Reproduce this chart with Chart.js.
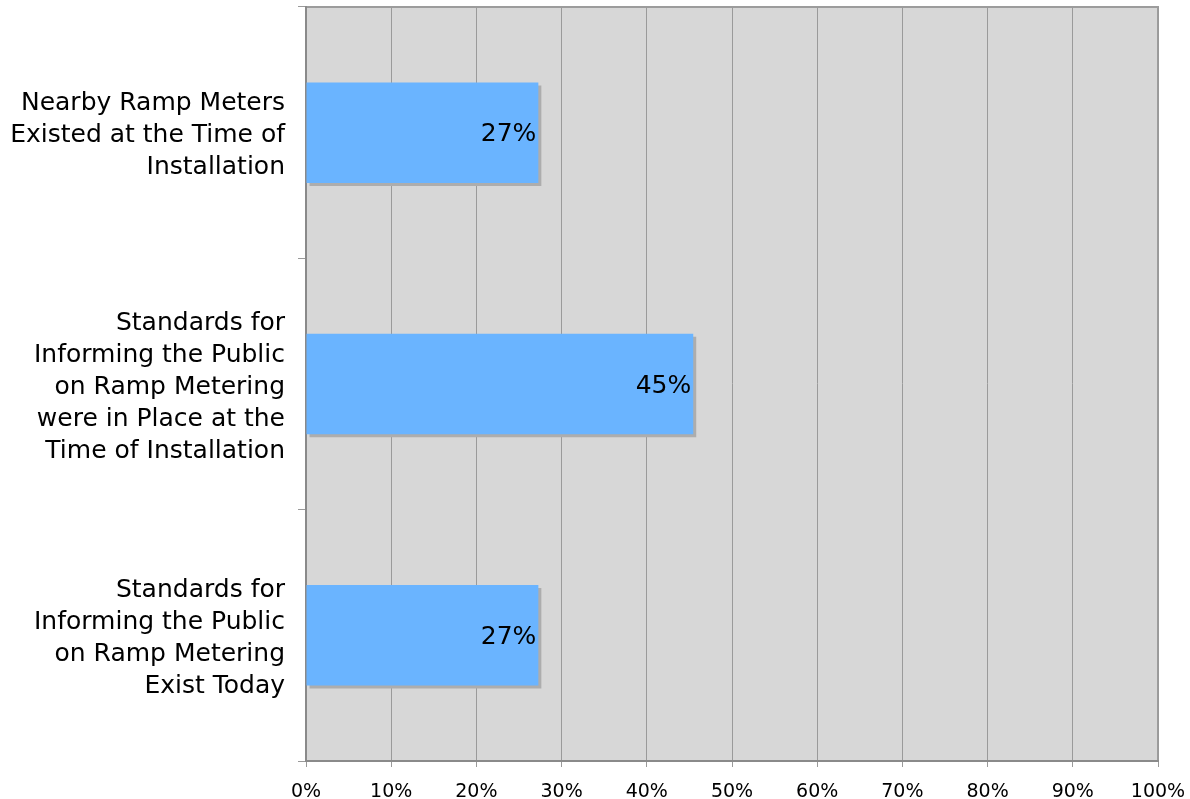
<!DOCTYPE html>
<html>
<head>
<meta charset="utf-8">
<script src="https://cdn.jsdelivr.net/npm/chart.js@4/dist/chart.umd.min.js"></script>
<style>
  html, body { margin: 0; padding: 0; background: #ffffff; }
  #wrap { width: 1190px; height: 799px; }
</style>
</head>
<body>
<div id="wrap"><canvas id="chart" width="1190" height="799"></canvas></div>
<script>
// Survey items, one bar each (multi-line labels)
const categories = [
  ['Nearby Ramp Meters', 'Existed at the Time of', 'Installation'],
  ['Standards for', 'Informing the Public', 'on Ramp Metering', 'were in Place at the', 'Time of Installation'],
  ['Standards for', 'Informing the Public', 'on Ramp Metering', 'Exist Today']
];
// Share of respondents answering yes (%)
const shares = [27.27, 45.45, 27.27];
// Horizontal axis ticks (%)
const xTickValues = [0, 10, 20, 30, 40, 50, 60, 70, 80, 90, 100];

const FONT = "'DejaVu Sans', Verdana, sans-serif";

// Grey plot background with a thin frame
const plotBackground = {
  id: 'plotBackground',
  beforeDraw(chart) {
    const { ctx, chartArea: a } = chart;
    ctx.save();
    ctx.fillStyle = '#d7d7d7';
    ctx.fillRect(a.left, a.top, a.right - a.left, a.bottom - a.top);
    ctx.strokeStyle = '#9c9c9c';
    ctx.lineWidth = 2;
    ctx.beginPath();
    ctx.moveTo(a.left, a.top);
    ctx.lineTo(a.right, a.top);
    ctx.lineTo(a.right, a.bottom);
    ctx.stroke();
    ctx.restore();
  }
};

// Drop shadow under the bars
const barShadow = {
  id: 'barShadow',
  beforeDatasetsDraw(chart) {
    const ctx = chart.ctx;
    ctx.save();
    ctx.shadowColor = '#adadad';
    ctx.shadowOffsetX = 3;
    ctx.shadowOffsetY = 3;
    ctx.shadowBlur = 0;
  },
  afterDatasetsDraw(chart) {
    chart.ctx.restore();
  }
};

// Percentage written just inside the end of each bar
const valueLabels = {
  id: 'valueLabels',
  afterDatasetsDraw(chart) {
    const ctx = chart.ctx;
    const meta = chart.getDatasetMeta(0);
    ctx.save();
    ctx.font = '25px ' + FONT;
    ctx.fillStyle = '#000000';
    ctx.textAlign = 'right';
    ctx.textBaseline = 'middle';
    meta.data.forEach((bar, i) => {
      const v = chart.data.datasets[0].data[i];
      ctx.fillText(Math.round(v) + '%', bar.x - 2, bar.y + 2);
    });
    ctx.restore();
  }
};

new Chart(document.getElementById('chart'), {
  type: 'bar',
  data: {
    labels: categories,
    datasets: [{
      data: shares,
      backgroundColor: '#6ab4ff',
      borderWidth: 0,
      categoryPercentage: 1,
      barPercentage: 0.4
    }]
  },
  options: {
    indexAxis: 'y',
    responsive: false,
    devicePixelRatio: 1,
    animation: false,
    layout: { padding: { left: 0, top: 7, right: 32, bottom: 0 } },
    plugins: { legend: { display: false }, tooltip: { enabled: false } },
    scales: {
      x: {
        min: 0,
        max: 100,
        afterBuildTicks(scale) {
          scale.ticks = xTickValues.map(v => ({ value: v }));
        },
        afterFit(scale) {
          scale.height = 38;
          scale.paddingLeft = 0;
          scale.paddingRight = 0;
        },
        grid: {
          color: '#9a9a9a',
          lineWidth: 1,
          tickLength: 6,
          drawTicks: true
        },
        border: { color: '#8a8a8a', width: 2 },
        ticks: {
          color: '#000000',
          font: { family: FONT, size: 19 },
          padding: 14,
          callback: v => v + '%'
        }
      },
      y: {
        afterFit(scale) {
          scale.width = 306;
          scale.paddingTop = 0;
          scale.paddingBottom = 0;
        },
        grid: {
          offset: true,
          drawOnChartArea: false,
          color: '#9a9a9a',
          tickLength: 8
        },
        border: { color: '#8a8a8a', width: 2 },
        ticks: {
          color: '#000000',
          font: { family: FONT, size: 25, lineHeight: '32px' },
          padding: 13,
          labelOffset: 3
        }
      }
    }
  },
  plugins: [plotBackground, barShadow, valueLabels]
});
</script>
</body>
</html>
